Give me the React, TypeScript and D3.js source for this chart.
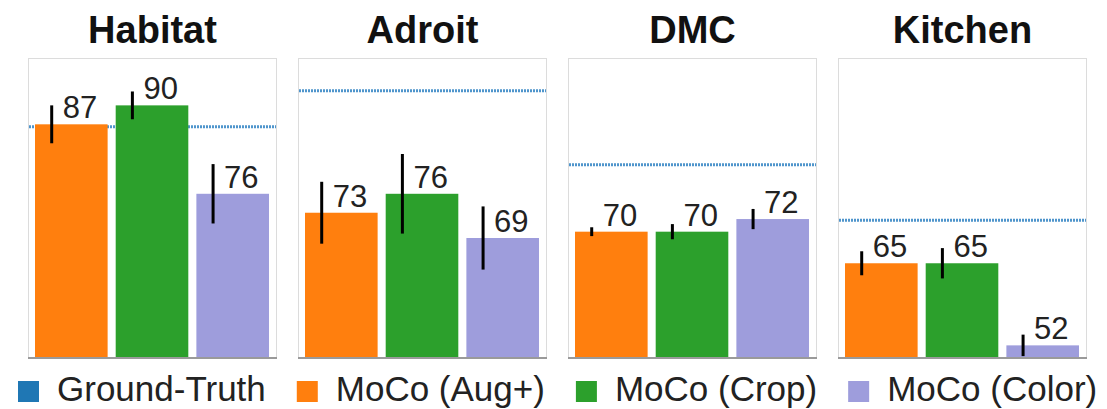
import { useEffect, useRef } from "react";
import * as d3 from "d3";

const benchmarks = ["Habitat", "Adroit", "DMC", "Kitchen"];
const methods = ["MoCo (Aug+)", "MoCo (Crop)", "MoCo (Color)"];
const legendLabels = ["Ground-Truth", ...methods];
const groundTruth = [86.6, 92.3, 80.6, 71.8];
const augPlus = [87, 73, 70, 65];
const crop = [90, 76, 70, 65];
const color = [76, 69, 72, 52];
const augPlusErr = [3.0, 4.9, 0.7, 1.9];
const cropErr = [2.2, 6.3, 1.2, 2.4];
const colorErr = [4.7, 5.0, 1.6, 1.7];
const yDomain = [50, 97.5];

const FONT = "'Liberation Sans', Arial, Helvetica, sans-serif";
const methodColors = ["#ff7f0e", "#2ca02c", "#9e9ddc"];
const gtColor = "#1f77b4";

function App() {
  const ref = useRef<SVGSVGElement>(null);

  useEffect(() => {
    const W = 1107;
    const H = 409;
    const svg = d3.select(ref.current);
    svg.selectAll("*").remove(); // clear before redraw
    svg.attr("width", W).attr("height", H);

    const panelTop = 58;
    const panelBottom = 358;

    // 4 panels, 249px wide, 21px apart
    const px = d3
      .scaleBand<string>()
      .domain(benchmarks)
      .range([28, 1087])
      .paddingInner(21 / 270)
      .paddingOuter(0);
    const panelW = px.bandwidth();

    const y = d3.scaleLinear().domain(yDomain).range([panelBottom, panelTop]);

    const values = [augPlus, crop, color];
    const errs = [augPlusErr, cropErr, colorErr];

    benchmarks.forEach((name, i) => {
      const x0 = px(name)!;
      const g = svg.append("g").attr("transform", `translate(${x0},0)`);

      // frame
      g.append("rect")
        .attr("x", 0.5)
        .attr("y", panelTop + 0.5)
        .attr("width", panelW - 1)
        .attr("height", panelBottom - panelTop)
        .attr("fill", "#fff")
        .attr("stroke", "#dcdcdc");

      // title
      g.append("text")
        .attr("x", panelW / 2)
        .attr("y", 43)
        .attr("text-anchor", "middle")
        .style("font-family", FONT)
        .style("font-size", "38px")
        .style("font-weight", "bold")
        .attr("fill", "#111")
        .text(name);

      // ground-truth line (behind bars)
      g.append("line")
        .attr("x1", 1)
        .attr("x2", panelW - 1)
        .attr("y1", y(groundTruth[i]))
        .attr("y2", y(groundTruth[i]))
        .attr("stroke", "#4f95cc")
        .attr("stroke-width", 3)
        .attr("stroke-dasharray", "2 1");

      const bx = d3
        .scaleBand<string>()
        .domain(methods)
        .range([7, panelW - 8])
        .paddingInner(0.1)
        .paddingOuter(0);

      methods.forEach((m, j) => {
        const v = values[j][i];
        const e = errs[j][i];
        const x = bx(m)!;
        const bw = bx.bandwidth();

        g.append("rect")
          .attr("x", x)
          .attr("y", y(v))
          .attr("width", bw)
          .attr("height", panelBottom - y(v))
          .attr("fill", methodColors[j]);

        const ex = x + bw * 0.23;
        g.append("line")
          .attr("x1", ex)
          .attr("x2", ex)
          .attr("y1", y(v + e))
          .attr("y2", y(Math.max(v - e, yDomain[0])))
          .attr("stroke", "#000")
          .attr("stroke-width", 3);

        g.append("text")
          .attr("x", ex + 11)
          .attr("y", y(v) - 6)
          .style("font-family", FONT)
          .style("font-size", "31px")
          .attr("fill", "#222")
          .text(d3.format("d")(v));
      });

      // bottom axis line
      g.append("line")
        .attr("x1", 0)
        .attr("x2", panelW)
        .attr("y1", panelBottom)
        .attr("y2", panelBottom)
        .attr("stroke", "#9a9a9a")
        .attr("stroke-width", 2);
    });

    // legend, laid out from measured text widths
    const legendColors = [gtColor, ...methodColors];
    const ctx = document.createElement("canvas").getContext("2d")!;
    ctx.font = `35px ${FONT}`;
    let lx = 18;
    legendLabels.forEach((label, k) => {
      svg
        .append("rect")
        .attr("x", lx)
        .attr("y", 381)
        .attr("width", 21)
        .attr("height", 21)
        .attr("fill", legendColors[k]);
      svg
        .append("text")
        .attr("x", lx + 39)
        .attr("y", 401)
        .style("font-family", FONT)
        .style("font-size", "35px")
        .attr("fill", "#222")
        .text(label);
      lx += 39 + ctx.measureText(label).width + 31;
    });
  }, []);

  return (
    <div style={{ position: "absolute", left: 0, top: 0 }}>
      <svg ref={ref} style={{ display: "block" }}></svg>
    </div>
  );
}

export default App;
